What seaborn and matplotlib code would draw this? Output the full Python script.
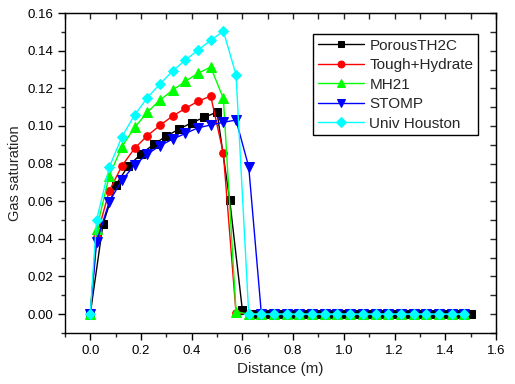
import numpy as np
import matplotlib
matplotlib.use("Agg")
import matplotlib.pyplot as plt
import seaborn as sns
from matplotlib.ticker import MultipleLocator, FormatStrFormatter

# ---------------------------------------------------
# data
x_half = [0.0, 0.025, 0.075, 0.125, 0.175, 0.225, 0.275, 0.325, 0.375, 0.425,
          0.475, 0.525, 0.575, 0.625, 0.675, 0.725, 0.775, 0.825, 0.875, 0.925,
          0.975, 1.025, 1.075, 1.125, 1.175, 1.225, 1.275, 1.325, 1.375, 1.425,
          1.475]
x_full = [0.0, 0.05, 0.1, 0.15, 0.2, 0.25, 0.3, 0.35, 0.4, 0.45, 0.5, 0.55,
          0.6, 0.65, 0.7, 0.75, 0.8, 0.85, 0.9, 0.95, 1.0, 1.05, 1.1, 1.15,
          1.2, 1.25, 1.3, 1.35, 1.4, 1.45, 1.5]

porous = [0.0, 0.0477, 0.0686, 0.0787, 0.085, 0.0902, 0.0946, 0.0983, 0.1017,
          0.1046, 0.1074, 0.0606, 0.0021, 0.0, 0.0, 0.0, 0.0, 0.0, 0.0, 0.0,
          0.0, 0.0, 0.0, 0.0, 0.0, 0.0, 0.0, 0.0, 0.0, 0.0, 0.0]
tough = [0.0, 0.0411, 0.0655, 0.0788, 0.0881, 0.0948, 0.1003, 0.1053, 0.1093,
         0.1131, 0.1159, 0.0854, 0.0005, 0.0, 0.0, 0.0, 0.0, 0.0, 0.0, 0.0,
         0.0, 0.0, 0.0, 0.0, 0.0, 0.0, 0.0, 0.0, 0.0, 0.0, 0.0]
mh21 = [0.0, 0.045, 0.0735, 0.089, 0.0992, 0.1072, 0.1138, 0.119, 0.1237,
        0.128, 0.1313, 0.1146, 0.0012, 0.0, 0.0, 0.0, 0.0, 0.0, 0.0, 0.0,
        0.0, 0.0, 0.0, 0.0, 0.0, 0.0, 0.0, 0.0, 0.0, 0.0, 0.0]
stomp = [0.0, 0.0384, 0.0597, 0.0712, 0.0792, 0.085, 0.0895, 0.093, 0.096,
         0.099, 0.1005, 0.102, 0.1031, 0.0783, 0.0, 0.0, 0.0, 0.0, 0.0, 0.0,
         0.0, 0.0, 0.0, 0.0, 0.0, 0.0, 0.0, 0.0, 0.0, 0.0, 0.0]
houston = [0.0, 0.05, 0.078, 0.0943, 0.1058, 0.115, 0.1223, 0.1292, 0.135,
           0.1403, 0.1455, 0.1504, 0.1272, 0.0, 0.0, 0.0, 0.0, 0.0, 0.0, 0.0,
           0.0, 0.0, 0.0, 0.0, 0.0, 0.0, 0.0, 0.0, 0.0, 0.0, 0.0]

# ---------------------------------------------------
sns.set_style("ticks")
plt.rcParams['font.family'] = ['Liberation Sans', 'DejaVu Sans']

fig = plt.figure(figsize=(5.15, 3.84), dpi=100)
ax = fig.add_axes([0.126, 0.133, 0.837, 0.833])

series = [
    (x_full, porous, "PorousTH2C", "black", "s", 5.5),
    (x_half, tough, "Tough+Hydrate", "red", "o", 5.5),
    (x_half, mh21, "MH21", "#00FF00", "^", 6.5),
    (x_half, stomp, "STOMP", "blue", "v", 6.5),
    (x_half, houston, "Univ Houston", "cyan", "D", 5.5),
]
for xs, ys, name, col, mk, ms in series:
    sns.lineplot(x=xs, y=ys, ax=ax, color=col, marker=mk, markersize=ms,
                 markeredgecolor=col, linewidth=1.0, label=name)

ax.set_xlim(-0.1, 1.6)
ax.set_ylim(-0.01, 0.16)
ax.xaxis.set_major_locator(MultipleLocator(0.2))
ax.xaxis.set_minor_locator(MultipleLocator(0.1))
ax.yaxis.set_major_locator(MultipleLocator(0.02))
ax.yaxis.set_minor_locator(MultipleLocator(0.01))
ax.xaxis.set_major_formatter(FormatStrFormatter('%.1f'))
ax.yaxis.set_major_formatter(FormatStrFormatter('%.2f'))
ax.tick_params(which='major', direction='out', length=5, width=1,
               labelsize=9.5, colors='black')
ax.tick_params(which='minor', direction='out', length=3, width=1)
for sp in ax.spines.values():
    sp.set_visible(True)
    sp.set_linewidth(1.0)
    sp.set_color('black')

# mirrored inward ticks on top and right
top = ax.secondary_xaxis('top')
top.xaxis.set_major_locator(MultipleLocator(0.1))
top.tick_params(direction='in', length=4, width=1, labeltop=False)
right = ax.secondary_yaxis('right')
right.yaxis.set_major_locator(MultipleLocator(0.01))
right.tick_params(direction='in', length=4, width=1, labelright=False)

ax.set_xlabel("Distance (m)", fontsize=11)
ax.set_ylabel("Gas saturation", fontsize=10.5)

leg = ax.legend(loc='upper right', bbox_to_anchor=(0.958, 0.934),
                fontsize=11, frameon=True, fancybox=False, framealpha=1,
                edgecolor='black', handlelength=3.0, handletextpad=0.35,
                labelspacing=0.36, borderpad=0.3, borderaxespad=0.0,
                markerscale=0.9)
leg.get_frame().set_linewidth(1.0)

fig.savefig("out.png", dpi=100)
